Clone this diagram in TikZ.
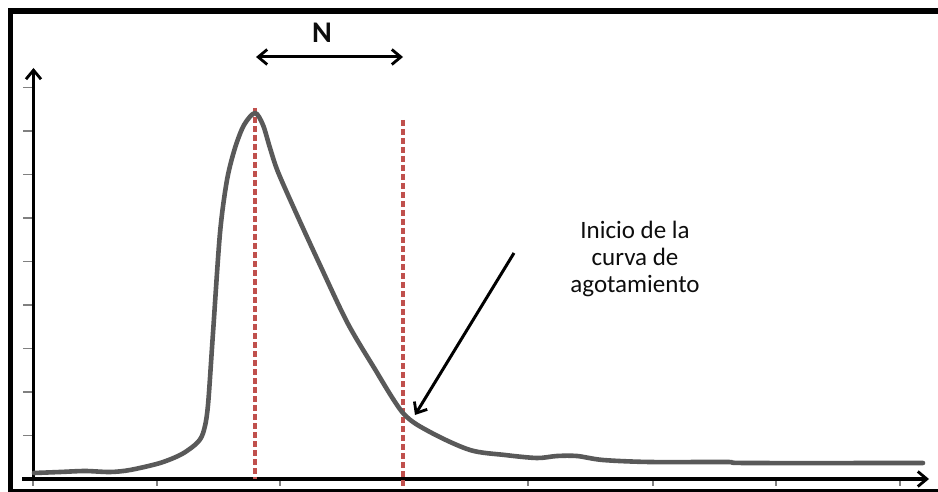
\documentclass[tikz,border=0pt]{standalone}
\usepackage{fontspec}
\setmainfont{Carlito}
\usetikzlibrary{arrows.meta}
\definecolor{curvegray}{HTML}{595959}
\definecolor{dashred}{HTML}{C0504D}
\definecolor{tickgray}{HTML}{808080}
\definecolor{txt}{HTML}{0D0D0D}
\tikzset{
  barb/.style={-{Straight Barb[length=9pt,width=15pt,line width=2.8pt]}},
  axisline/.style={line width=3.2pt, black, barb},
  tickmark/.style={line width=1.6pt, tickgray},
  curveline/.style={line width=4.6pt, curvegray, line join=round, line cap=round},
  guide/.style={line width=3.2pt, dashred, dash pattern=on 6pt off 3pt},
  pointer/.style={line width=3pt, black, {Straight Barb[length=9pt,width=15pt,line width=2.8pt]}-{Straight Barb[length=9pt,width=15pt,line width=2.8pt]}},
  callout/.style={line width=3pt, black, barb},
  lbl/.style={font=\fontsize{25}{27}\selectfont, text=txt, align=center, inner sep=0pt}
}
\begin{document}
\begin{tikzpicture}[x=1pt,y=-1pt]
\useasboundingbox (0,0) rectangle (938,492);
% frame
\fill[black] (8,8) rectangle (938,14);
\fill[black] (8,8) rectangle (13,492);
\fill[black] (8,489) rectangle (938,492);
% named points
\coordinate (origin) at (33.5,479);
\coordinate (ytop) at (33.5,68);
\coordinate (xleft) at (22,479);
\coordinate (xright) at (929,479);
% ticks
\foreach \k in {1,...,9} \draw[tickmark] (23,479-43.5*\k) -- (33.5,479-43.5*\k);
\foreach \x in {33,157,280,403,528,653,776,900} \draw[tickmark] (\x,479) -- (\x,486);
% axes
\draw[axisline] (origin) -- (ytop);
\draw[axisline] (xleft) -- (xright);
% dashed guides
\coordinate (g1t) at (255,108);
\coordinate (g1b) at (255,479);
\coordinate (g2t) at (403,120);
\coordinate (g2b) at (403,489);
\draw[guide] (g1t) -- (g1b);
\draw[guide] (g2t) -- (g2b);
% curve
\draw[curveline] plot[smooth, tension=0.5] coordinates {
 (34,473) (60,472) (85,471) (110,472) (130,470) (160,463) (182,454) (198,442) (204,430)
 (208,405) (213,333) (220,233) (227,180) (235,148) (244,125) (255,113)
 (263,125) (270,148) (278,172) (297,215) (320,265) (347,322) (373,366) (403,413)
 (430,432) (470,450) (505,455) (537,458) (557,456) (577,456) (603,460) (650,462)
 (727,462) (747,463) (923,463)};
% N arrow
\coordinate (na) at (256,57);
\coordinate (nb) at (403,57);
\draw[pointer] (na) -- (nb);
\node[font=\fontsize{30}{32}\selectfont\bfseries, text=txt, inner sep=0pt] (N) at (322,33) {N};
% label and callout
\node[lbl] (label) at (635,259) {Inicio de la\\curva de\\agotamiento};
\coordinate (cs) at (514,253);
\coordinate (ct) at (415,415);
\draw[callout] (cs) -- (ct);
\end{tikzpicture}
\end{document}
